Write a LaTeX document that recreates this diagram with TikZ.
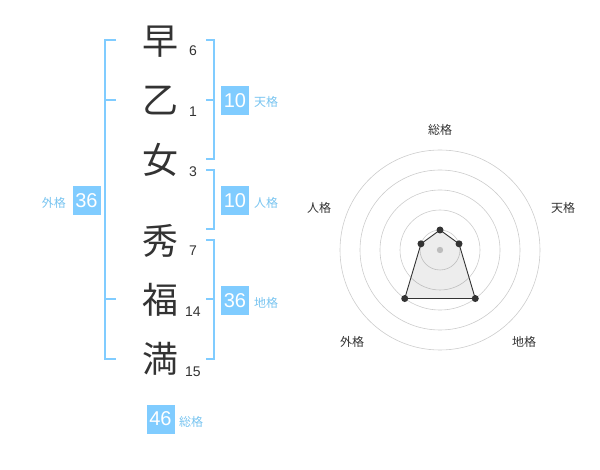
\documentclass[tikz,border=0pt]{standalone}
\usepackage{fontspec}
\setmainfont{Liberation Sans}
\newfontfamily\jp{Noto Sans CJK JP}
\definecolor{kblue}{RGB}{128,204,255}
\definecolor{klabel}{RGB}{120,196,240}
\definecolor{kdark}{RGB}{51,51,51}
\definecolor{kgrid}{RGB}{204,204,204}
\begin{document}
\begin{tikzpicture}[x=1pt,y=-1pt,
  bigch/.style={font=\jp\fontsize{36}{36}\selectfont, text=kdark, inner sep=0pt},
  strk/.style={font=\fontsize{14}{14}\selectfont, text=kdark, inner sep=0pt},
  brk/.style={draw=kblue, line width=1.6pt},
  numbox/.style={fill=kblue, text=white, font=\fontsize{20}{20}\selectfont, minimum width=28pt, minimum height=29pt, inner sep=0pt},
  klab/.style={font=\jp\fontsize{12}{12}\selectfont, text=klabel, inner sep=0pt},
  rlab/.style={font=\jp\fontsize{12}{12}\selectfont, text=kdark, inner sep=0pt},
  ring/.style={draw=kgrid, line width=0.6pt},
  dot/.style={circle, fill=kdark, inner sep=0pt, minimum size=7pt}]
\useasboundingbox (0,0) rectangle (600,470);
% characters
\node[bigch] (c1) at (160,42) {早};
\node[bigch] (c2) at (160,101) {乙};
\node[bigch] (c3) at (160,160) {女};
\node[bigch] (c4) at (160,241) {秀};
\node[bigch] (c5) at (160,300) {福};
\node[bigch] (c6) at (160,359) {満};
% strokes
\node[strk] (s1) at (193,51) {6};
\node[strk] (s2) at (193,112) {1};
\node[strk] (s3) at (193,172) {3};
\node[strk] (s4) at (193,251) {7};
\node[strk] (s5) at (193,312) {14};
\node[strk] (s6) at (193,372) {15};
% brackets
\coordinate (lt) at (116,40); \coordinate (lb) at (116,359);
\draw[brk] (lt) -- (105,40) -- (105,359) -- (lb);
\draw[brk] (105,100) -- (116,100);
\draw[brk] (105,299) -- (116,299);
\draw[brk] (206,40) -- (214,40) -- (214,159) -- (206,159);
\draw[brk] (206,100) -- (214,100);
\draw[brk] (206,170) -- (214,170) -- (214,229) -- (206,229);
\draw[brk] (206,240) -- (214,240) -- (214,359) -- (206,359);
\draw[brk] (206,299) -- (214,299);
% boxes
\node[numbox] (b1) at (235,100.5) {10};
\node[klab, anchor=west] (l1) at (254,102) {天格};
\node[numbox] (b2) at (235,200.5) {10};
\node[klab, anchor=west] (l2) at (254,203) {人格};
\node[numbox] (b3) at (235,300.5) {36};
\node[klab, anchor=west] (l3) at (254,303) {地格};
\node[numbox] (b4) at (86.5,200.5) {36};
\node[klab, anchor=east] (l4) at (66,203) {外格};
\node[numbox] (b5) at (160.5,419) {46};
\node[klab, anchor=west] (l5) at (179,422) {総格};
% radar
\coordinate (rc) at (440,250);
\foreach \r in {20,40,60,80,100} \draw[ring] (rc) circle[radius=\r];
\fill[kgrid] (rc) circle[radius=3.2];
\coordinate (p1) at (440,230);
\coordinate (p2) at (459.02,243.82);
\coordinate (p3) at (475.27,298.54);
\coordinate (p4) at (404.73,298.54);
\coordinate (p5) at (420.98,243.82);
\filldraw[draw=kdark, fill=black, fill opacity=0.07, line width=0.9pt] (p1) -- (p2) -- (p3) -- (p4) -- (p5) -- cycle;
\foreach \p in {p1,p2,p3,p4,p5} \node[dot] at (\p) {};
\node[rlab] (r1) at (440,130) {総格};
\node[rlab] (r2) at (563,208) {天格};
\node[rlab] (r3) at (319,208) {人格};
\node[rlab] (r4) at (352,342) {外格};
\node[rlab] (r5) at (524,342) {地格};
\end{tikzpicture}
\end{document}
